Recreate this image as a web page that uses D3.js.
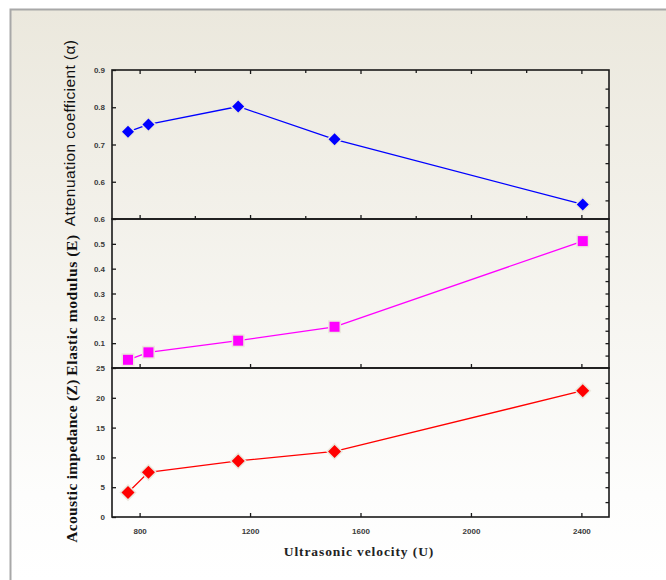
<!DOCTYPE html>
<html>
<head>
<meta charset="utf-8">
<script src="https://cdn.jsdelivr.net/npm/d3@7"></script>
<style>
  html, body { margin: 0; padding: 0; background: #ffffff; }
  svg { display: block; }
</style>
</head>
<body>
<svg id="chart" width="666" height="580"></svg>
<script>
// ---- data ----
const velocity    = [758, 832, 1157, 1506, 2405];
const attenuation = [0.734, 0.754, 0.802, 0.714, 0.539];
const elastic     = [0.033, 0.063, 0.110, 0.166, 0.511];
const impedance   = [4.1, 7.5, 9.4, 11.0, 21.2];

const xMajorTicks = [800, 1200, 1600, 2000, 2400];
const xMinorTicks = [800, 1000, 1200, 1400, 1600, 1800, 2000, 2200, 2400];
const attTicks    = [0.6, 0.7, 0.8, 0.9];
const attMinor    = [0.55, 0.6, 0.65, 0.7, 0.75, 0.8, 0.85];
const elaTicks    = [0.1, 0.2, 0.3, 0.4, 0.5, 0.6];
const elaMinor    = [0.05, 0.1, 0.15, 0.2, 0.25, 0.3, 0.35, 0.4, 0.45, 0.5, 0.55];
const impTicks    = [0, 5, 10, 15, 20, 25];
const impMinor    = [2.5, 5, 7.5, 10, 12.5, 15, 17.5, 20, 22.5];

const xTitle = "Ultrasonic velocity (U)";
const titles = ["Attenuation coefficient (\u03B1)", "Elastic modulus (E)", "Acoustic impedance (Z)"];

// ---- layout ----
const svg = d3.select("#chart");
const L = 112, R = 609, T = 70, B = 517;
const ph = (B - T) / 3;

const defs = svg.append("defs");
const grad = defs.append("linearGradient").attr("id", "bg")
  .attr("gradientUnits", "userSpaceOnUse")
  .attr("x1", 0).attr("y1", 10).attr("x2", 0).attr("y2", 580);
grad.append("stop").attr("offset", 0).attr("stop-color", "#ebe8dd");
grad.append("stop").attr("offset", 0.85).attr("stop-color", "#fdfdfc");
grad.append("stop").attr("offset", 1).attr("stop-color", "#ffffff");

svg.append("rect").attr("x", 10).attr("y", 10).attr("width", 656).attr("height", 570)
  .attr("fill", "url(#bg)");
svg.append("path").attr("d", "M10.5,580 L10.5,9.5 L666,9.5")
  .attr("fill", "none").attr("stroke", "#a8a8a8").attr("stroke-width", 2);

const x = d3.scaleLinear().domain([700, 2500]).range([L, R]);

const panels = [
  { vals: attenuation, dom: [0.5, 0.9], ticks: attTicks, minor: attMinor, fmt: d3.format(".1f"),
    color: "#0000ff", shape: "diamond", size: 6, bottomTicks: xMinorTicks, topTicks: xMinorTicks },
  { vals: elastic, dom: [0, 0.6], ticks: elaTicks, minor: elaMinor, fmt: d3.format(".1f"),
    color: "#ff00ff", shape: "square", size: 5, bottomTicks: xMajorTicks, topTicks: [] },
  { vals: impedance, dom: [0, 25], ticks: impTicks, minor: impMinor, fmt: d3.format("d"),
    color: "#ff0000", shape: "diamond", size: 6.5, bottomTicks: xMajorTicks, topTicks: [] }
];

const axisColor = "#1a1a1a";

panels.forEach((p, i) => {
  const top = T + i * ph, bot = top + ph;
  const y = d3.scaleLinear().domain(p.dom).range([bot, top]);
  const g = svg.append("g");

  // left axis: ticks inward
  const left = d3.axisLeft(y).tickValues(p.ticks).tickSize(-4).tickPadding(7).tickFormat(p.fmt);
  const gl = g.append("g").attr("transform", `translate(${L},0)`).call(left);
  gl.select(".domain").remove();
  gl.selectAll(".tick line").attr("stroke", axisColor).attr("stroke-width", 1.3);
  gl.selectAll(".tick text").attr("font-family", "Arial, 'Liberation Sans', sans-serif")
    .attr("font-size", 8).attr("font-weight", "bold").attr("fill", "#3a3a3a");

  // right axis: minor ticks inward
  const right = d3.axisRight(y).tickValues(p.minor).tickSize(-3.5).tickFormat("");
  const gr = g.append("g").attr("transform", `translate(${R},0)`).call(right);
  gr.select(".domain").remove();
  gr.selectAll(".tick line").attr("stroke", axisColor).attr("stroke-width", 1.3);

  // bottom ticks (inward, pointing up)
  const bAx = d3.axisBottom(x).tickValues(p.bottomTicks).tickSize(-4).tickFormat("");
  const gb = g.append("g").attr("transform", `translate(0,${bot})`).call(bAx);
  gb.select(".domain").remove();
  gb.selectAll(".tick line").attr("stroke", axisColor).attr("stroke-width", 1.3)
    .attr("y2", d => xMajorTicks.includes(d) ? -4 : -3);

  if (p.topTicks.length) {
    const tAx = d3.axisTop(x).tickValues(p.topTicks).tickSize(-4).tickFormat("");
    const gt = g.append("g").attr("transform", `translate(0,${top})`).call(tAx);
    gt.select(".domain").remove();
    gt.selectAll(".tick line").attr("stroke", axisColor).attr("stroke-width", 1.3)
      .attr("y2", d => xMajorTicks.includes(d) ? 4 : 3);
  }

  // frame
  g.append("rect").attr("x", L).attr("y", top).attr("width", R - L).attr("height", ph)
    .attr("fill", "none").attr("stroke", axisColor).attr("stroke-width", 1.6);

  // line
  const pts = velocity.map((v, k) => [x(v), y(p.vals[k])]);
  g.append("path").attr("d", d3.line()(pts))
    .attr("fill", "none").attr("stroke", p.color).attr("stroke-width", 1.3);

  // markers
  const s = p.size;
  const shapePath = p.shape === "diamond"
    ? `M0,${-s} L${s},0 L0,${s} L${-s},0 Z`
    : `M${-s},${-s} L${s},${-s} L${s},${s} L${-s},${s} Z`;
  g.selectAll("path.mk").data(pts).join("path").attr("class", "mk")
    .attr("transform", d => `translate(${d[0]},${d[1]})`)
    .attr("d", shapePath)
    .attr("fill", p.color)
    .attr("stroke", "url(#bg)").attr("stroke-width", 3)
    .attr("paint-order", "stroke");
});

// bottom axis labels
const gx = svg.append("g").attr("transform", `translate(0,${B})`)
  .call(d3.axisBottom(x).tickValues(xMajorTicks).tickSize(0).tickPadding(11).tickFormat(d3.format("d")));
gx.select(".domain").remove();
gx.selectAll(".tick text").attr("font-family", "Arial, 'Liberation Sans', sans-serif")
  .attr("font-size", 8).attr("font-weight", "bold").attr("fill", "#3a3a3a");

// x title
svg.append("text").attr("x", 359).attr("y", 556).attr("text-anchor", "middle")
  .attr("font-family", "'Liberation Serif', 'Times New Roman', serif")
  .attr("font-weight", "bold").attr("font-size", 13.5).attr("fill", "#222")
  .attr("letter-spacing", 0.9)
  .text(xTitle);

// y titles
const yTitleSpecs = [
  { cx: 75, cy: 133, font: "Arial, 'Liberation Sans', sans-serif", weight: "normal", size: 15.5, ls: 0.4 },
  { cx: 77, cy: 305, font: "'Liberation Serif', 'Times New Roman', serif", weight: "bold", size: 15.5, ls: 0.6 },
  { cx: 77, cy: 461, font: "'Liberation Serif', 'Times New Roman', serif", weight: "bold", size: 15.5, ls: 0.3 }
];
yTitleSpecs.forEach((t, i) => {
  svg.append("text")
    .attr("transform", `translate(${t.cx},${t.cy}) rotate(-90)`)
    .attr("text-anchor", "middle")
    .attr("font-family", t.font).attr("font-weight", t.weight).attr("font-size", t.size)
    .attr("letter-spacing", t.ls)
    .attr("fill", "#111")
    .text(titles[i]);
});
</script>
</body>
</html>
